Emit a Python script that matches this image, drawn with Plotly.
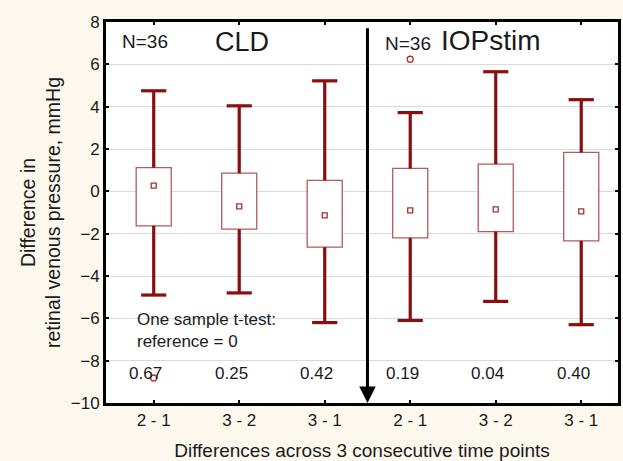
import plotly.graph_objects as go

categories = ["2 - 1", "3 - 2", "3 - 1", "2 - 1", "3 - 2", "3 - 1"]
group_labels = ["CLD", "IOPstim"]
n_label = "N=36"
whisker_low = [-4.9, -4.8, -6.2, -6.1, -5.2, -6.3]
box_low = [-1.63, -1.79, -2.64, -2.2, -1.9, -2.34]
box_high = [1.12, 0.86, 0.52, 1.08, 1.29, 1.84]
whisker_high = [4.75, 4.04, 5.22, 3.72, 5.65, 4.33]
centers = [0.27, -0.71, -1.14, -0.9, -0.85, -0.95]
outlier_cat = [0, 3]
outlier_val = [-8.82, 6.24]
p_values = ["0.67", "0.25", "0.42", "0.19", "0.04", "0.40"]

xs = list(range(len(categories)))
box_col = "#b45a5a"
wh_col = "#8c0d0d"
font = "Liberation Sans, Arial, sans-serif"
txt = "#1a1a1a"

fig = go.Figure()

# boxes
fig.add_trace(go.Bar(
    x=xs, y=[h - l for h, l in zip(box_high, box_low)], base=box_low,
    width=0.41, marker=dict(color="white", line=dict(color=box_col, width=1.3)),
    showlegend=False, hoverinfo="skip"))

# whiskers
wx, wy = [], []
for i in xs:
    wx += [i, i, None, i, i, None]
    wy += [box_high[i], whisker_high[i], None, box_low[i], whisker_low[i], None]
fig.add_trace(go.Scatter(x=wx, y=wy, mode="lines",
                         line=dict(color=wh_col, width=3.2),
                         showlegend=False, hoverinfo="skip"))
# caps
fig.add_trace(go.Scatter(x=xs + xs, y=whisker_high + whisker_low, mode="markers",
                         marker=dict(symbol="line-ew", size=18,
                                     line=dict(color=wh_col, width=3.2)),
                         showlegend=False, hoverinfo="skip"))
# center markers
fig.add_trace(go.Scatter(x=xs, y=centers, mode="markers",
                         marker=dict(symbol="square-open", size=5,
                                     line=dict(color="#a8302f", width=1.3),
                                     color="#a8302f"),
                         showlegend=False, hoverinfo="skip"))
# outliers
fig.add_trace(go.Scatter(x=outlier_cat, y=outlier_val, mode="markers",
                         marker=dict(symbol="circle-open", size=6,
                                     line=dict(color="#a8302f", width=1.3),
                                     color="#a8302f"),
                         showlegend=False, hoverinfo="skip"))

annotations = []
# separator arrow
sep = (len(xs) - 1) / 2
annotations.append(dict(x=sep, y=-10, ax=sep, ay=7.78, xref="x", yref="y",
                        axref="x", ayref="y", text="", showarrow=True,
                        arrowhead=2, arrowwidth=3, arrowsize=1.1,
                        arrowcolor="black", standoff=0))
annotations.append(dict(x=-0.395, y=7.06, xref="x", yref="y", text=n_label,
                        showarrow=False, xanchor="left", yanchor="middle",
                        font=dict(family=font, size=19, color=txt)))
annotations.append(dict(x=1.03, y=7.06, xref="x", yref="y", text=group_labels[0],
                        showarrow=False, xanchor="center", yanchor="middle",
                        font=dict(family=font, size=27, color=txt)))
annotations.append(dict(x=2.686, y=6.97, xref="x", yref="y", text=n_label,
                        showarrow=False, xanchor="left", yanchor="middle",
                        font=dict(family=font, size=19, color=txt)))
annotations.append(dict(x=3.94, y=7.13, xref="x", yref="y", text=group_labels[1],
                        showarrow=False, xanchor="center", yanchor="middle",
                        font=dict(family=font, size=28, color=txt)))
annotations.append(dict(x=-0.22, y=-6.58, xref="x", yref="y",
                        text="One sample t-test:<br>reference = 0",
                        showarrow=False, xanchor="left", yanchor="middle", align="left",
                        font=dict(family=font, size=17, color=txt)))
for i, p in zip(xs, p_values):
    annotations.append(dict(x=i, y=-8.6, xref="x", yref="y", text=p, xshift=-8,
                            showarrow=False, xanchor="center", yanchor="middle",
                            font=dict(family=font, size=17, color=txt)))
annotations.append(dict(x=-0.128, y=0.5, xref="paper", yref="paper",
                        text="Difference in<br>retinal venous pressure, mmHg",
                        textangle=-90, showarrow=False, xanchor="center",
                        yanchor="middle",
                        font=dict(family=font, size=19.5, color=txt)))

fig.update_layout(
    width=623, height=461,
    margin=dict(l=106, r=2, t=22, b=58),
    paper_bgcolor="#fdf8ee", plot_bgcolor="white",
    annotations=annotations,
    xaxis=dict(range=[-0.558, 5.43], tickvals=xs, ticktext=categories,
               showgrid=False, zeroline=False, showline=True, linewidth=3,
               linecolor="black", mirror="ticks", ticks="inside", ticklen=3,
               tickwidth=2, tickcolor="black",
               tickfont=dict(family=font, size=17, color=txt),
               title=dict(text="Differences across 3 consecutive time points",
                          font=dict(family=font, size=19, color=txt), standoff=15)),
    yaxis=dict(range=[-10, 8], dtick=2, showgrid=True, gridcolor="#dadada",
               gridwidth=1, zeroline=False, showline=True, linewidth=3,
               linecolor="black", mirror="ticks", ticks="inside", ticklen=3,
               tickwidth=2, tickcolor="black",
               tickfont=dict(family=font, size=17, color=txt)),
)

fig.write_html("out.html", config={"displayModeBar": False},
               post_script="document.body.style.margin='0';document.body.style.overflow='hidden';")
